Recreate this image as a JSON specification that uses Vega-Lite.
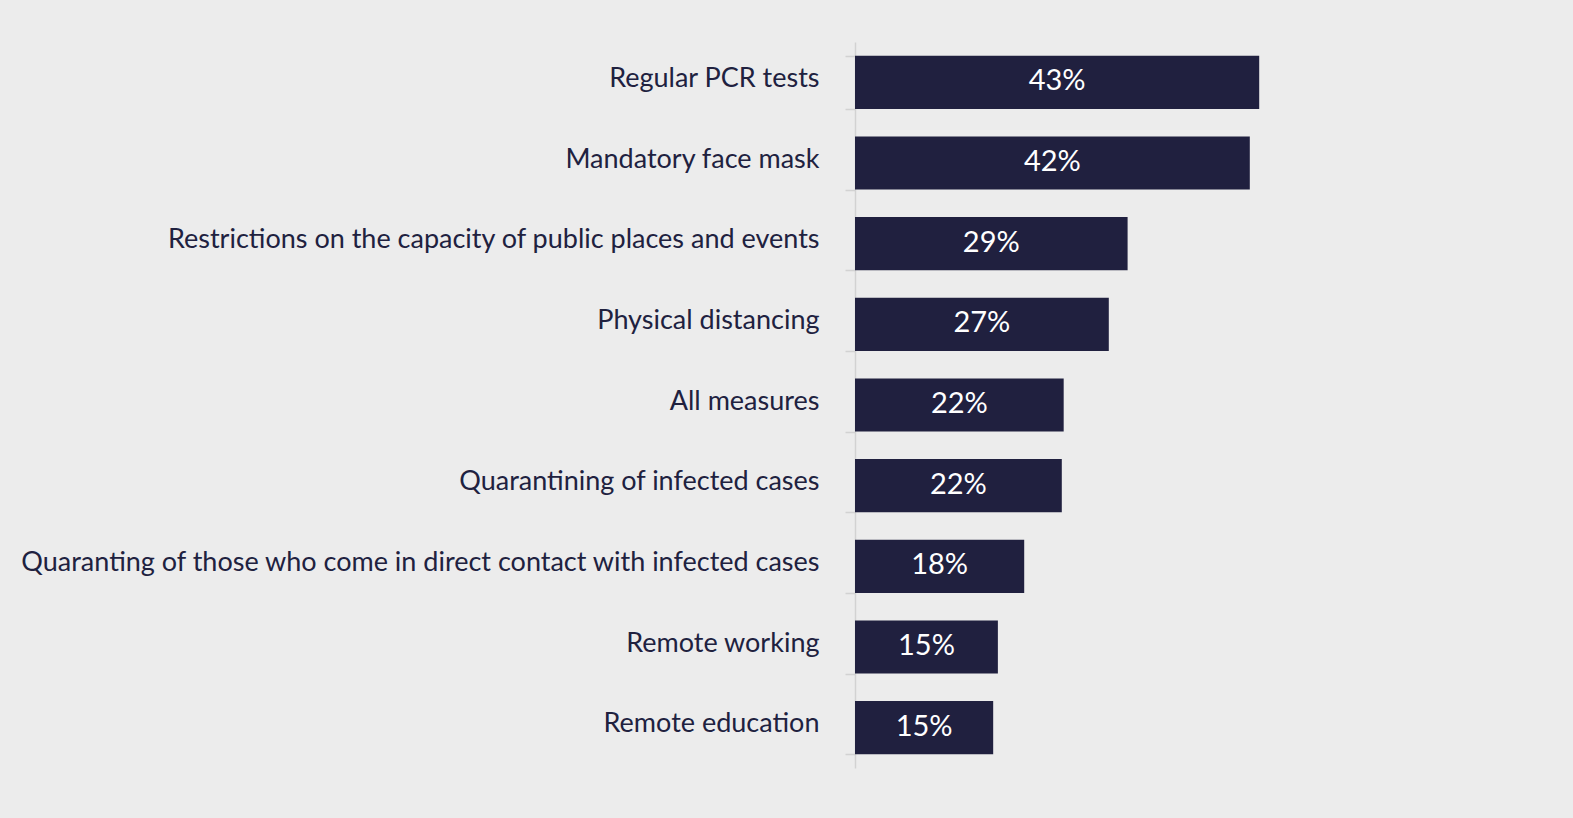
{
  "$schema": "https://vega.github.io/schema/vega-lite/v6.json",
  "autosize": {"type": "none"},
  "padding": {"left": 855, "top": 42, "right": 248, "bottom": 50},
  "width": 470,
  "height": 726,
  "background": "#ECECEC",
  "config": {"view": {"stroke": null}},
  "data": {
    "values": [
      {"measure": "Regular PCR tests", "value": 0.43},
      {"measure": "Mandatory face mask", "value": 0.42},
      {"measure": "Restrictions on the capacity of public places and events", "value": 0.29},
      {"measure": "Physical distancing", "value": 0.27},
      {"measure": "All measures", "value": 0.222},
      {"measure": "Quarantining of infected cases", "value": 0.22},
      {"measure": "Quaranting of those who come in direct contact with infected cases", "value": 0.18},
      {"measure": "Remote working", "value": 0.152},
      {"measure": "Remote education", "value": 0.147}
    ]
  },
  "encoding": {
    "y": {
      "field": "measure",
      "type": "nominal",
      "sort": null,
      "scale": {"paddingInner": 0.34, "paddingOuter": 0.17},
      "axis": {
        "title": null,
        "tickBand": "extent",
        "domainColor": "#D2D2D2",
        "tickColor": "#D2D2D2",
        "domainWidth": 1.5,
        "tickWidth": 1.5,
        "tickSize": 10,
        "labelPadding": 26,
        "labelFont": "Lato",
        "labelFontSize": 27,
        "labelColor": "#20213F",
        "labelLimit": 900,
        "labelOffset": -4
      }
    }
  },
  "layer": [
    {
      "mark": {"type": "bar", "color": "#20203F"},
      "encoding": {
        "x": {"field": "value", "type": "quantitative", "scale": {"domain": [0, 0.5]}, "axis": null}
      }
    },
    {
      "mark": {"type": "text", "color": "#FFFFFF", "font": "Lato", "fontSize": 29, "dy": -1},
      "encoding": {
        "x": {"field": "value", "type": "quantitative", "stack": "zero", "bandPosition": 0.5},
        "text": {"field": "value", "type": "quantitative", "format": ".0%"}
      }
    }
  ]
}
